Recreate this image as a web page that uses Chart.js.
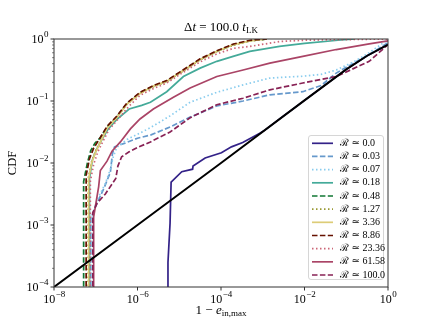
<!DOCTYPE html>
<html>
<head>
<meta charset="utf-8">
<script src="https://cdn.jsdelivr.net/npm/chart.js@4.4.0/dist/chart.umd.min.js"></script>
<style>
  html, body { margin: 0; padding: 0; background: #fff; }
</style>
</head>
<body>
<canvas id="chartCDF" width="432" height="324"></canvas>
<script>
// values as [log10(1 - e_in,max), log10(CDF)]
const rLabels = ['0.0', '0.03', '0.07', '0.18', '0.48', '1.27', '3.36', '8.86', '23.36', '61.58', '100.0'];

const cdf_R0 = [[-5.27,-4.5],[-5.27,-3.6],[-5.22,-2.97],[-5.195,-2.31],[-4.94,-2.14],[-4.68,-2.10],[-4.67,-2.05],
  [-4.38,-1.92],[-3.99,-1.835],[-3.75,-1.74],[-3.48,-1.67],[-3.07,-1.52],[-2.95,-1.47],[-2.5,-1.24],[-2.0,-0.99],
  [-1.5,-0.74],[-1.0,-0.49],[-0.5,-0.27],[0,-0.09]];
const cdf_R003 = [[-7.12,-4.5],[-7.12,-2.9],[-7.01,-2.71],[-6.8,-2.4],[-6.65,-2.15],[-6.6,-1.85],[-6.55,-1.74],
  [-6.3,-1.68],[-6.0,-1.6],[-5.69,-1.55],[-5.22,-1.42],[-4.74,-1.26],[-4.10,-1.08],[-3.47,-1.0],[-2.83,-0.90],
  [-2.04,-0.85],[-1.6,-0.75],[-1.24,-0.55],[-0.8,-0.38],[-0.45,-0.25],[0,-0.06]];
const cdf_R007 = [[-7.10,-4.5],[-7.10,-2.9],[-6.97,-2.60],[-6.77,-2.33],[-6.65,-2.1],[-6.58,-1.9],[-6.5,-1.75],
  [-6.25,-1.62],[-5.95,-1.52],[-5.69,-1.43],[-5.22,-1.24],[-4.74,-1.02],[-4.10,-0.86],[-3.47,-0.74],[-2.83,-0.63],
  [-2.04,-0.6],[-1.6,-0.57],[-1.24,-0.50],[-0.8,-0.36],[-0.45,-0.22],[0,-0.01]];
const cdf_R018 = [[-7.15,-4.5],[-7.15,-2.25],[-7.08,-1.95],[-6.98,-1.78],[-6.85,-1.62],[-6.7,-1.45],[-6.5,-1.3],
  [-6.2,-1.13],[-5.9,-1.07],[-5.69,-1.02],[-5.3,-0.85],[-4.9,-0.605],[-4.5,-0.47],[-4.1,-0.36],[-3.71,-0.28],
  [-3.31,-0.20],[-2.6,-0.12],[-2.0,-0.07],[-1.2,-0.02],[-0.8,0]];
const cdf_R048 = [[-7.29,-4.5],[-7.29,-2.3],[-7.2,-2.0],[-7.12,-1.8],[-7.02,-1.68],[-6.9,-1.6],[-6.73,-1.42],
  [-6.49,-1.25],[-6.25,-1.04],[-5.94,-0.87],[-5.62,-0.76],[-5.3,-0.68],[-4.98,-0.54],[-4.5,-0.33],
  [-4.1,-0.2],[-3.7,-0.09],[-3.3,-0.03],[-2.9,0]];
const cdf_R127 = [[-7.18,-4.5],[-7.18,-2.25],[-7.1,-1.98],[-7.0,-1.8],[-6.88,-1.64],[-6.73,-1.43],[-6.49,-1.26],
  [-6.25,-1.05],[-5.94,-0.88],[-5.62,-0.77],[-5.3,-0.69],[-4.98,-0.55],[-4.5,-0.34],[-4.1,-0.2],
  [-3.7,-0.1],[-3.3,-0.03],[-2.9,0]];
const cdf_R336 = [[-7.17,-4.5],[-7.17,-2.25],[-7.1,-2.0],[-7.0,-1.82],[-6.88,-1.65],[-6.73,-1.44],[-6.49,-1.26],
  [-6.25,-1.05],[-5.94,-0.88],[-5.62,-0.76],[-5.3,-0.68],[-4.98,-0.54],[-4.5,-0.33],[-4.1,-0.2],
  [-3.7,-0.09],[-3.3,-0.03],[-2.9,0]];
const cdf_R886 = [[-7.23,-4.5],[-7.23,-2.2],[-7.15,-1.93],[-7.05,-1.76],[-6.9,-1.6],[-6.73,-1.41],[-6.49,-1.24],
  [-6.25,-1.03],[-5.94,-0.86],[-5.62,-0.75],[-5.3,-0.67],[-4.98,-0.53],[-4.5,-0.32],[-4.1,-0.19],
  [-3.7,-0.08],[-3.3,-0.02],[-2.9,0]];
const cdf_R2336 = [[-7.13,-4.5],[-7.13,-2.3],[-7.05,-2.02],[-6.95,-1.82],[-6.82,-1.64],[-6.68,-1.46],[-6.45,-1.28],
  [-6.2,-1.08],[-5.94,-0.91],[-5.62,-0.8],[-5.3,-0.71],[-4.98,-0.57],[-4.5,-0.37],[-4.1,-0.24],[-3.7,-0.15],
  [-3.31,-0.12],[-2.59,-0.04],[-2.0,-0.02],[-1.0,-0.01],[0,0]];
const cdf_R6158 = [[-7.05,-4.5],[-7.05,-2.87],[-6.93,-2.38],[-6.89,-2.12],[-6.73,-1.97],[-6.61,-1.81],[-6.41,-1.66],
  [-6.17,-1.45],[-5.94,-1.29],[-5.62,-1.13],[-5.14,-0.94],[-4.74,-0.79],[-4.10,-0.605],[-3.47,-0.50],[-2.83,-0.39],
  [-2.04,-0.28],[-1.24,-0.17],[-0.45,-0.08],[0,-0.03]];
const cdf_R100 = [[-7.07,-4.5],[-7.07,-2.8],[-6.97,-2.65],[-6.77,-2.5],[-6.52,-2.25],[-6.47,-2.05],[-6.38,-1.9],
  [-6.2,-1.82],[-6.0,-1.75],[-5.69,-1.66],[-5.22,-1.5],[-4.74,-1.27],[-4.10,-1.06],[-3.47,-0.955],[-2.83,-0.82],
  [-2.04,-0.71],[-1.24,-0.605],[-0.45,-0.36],[0,-0.09]];
const refLine = [[-8,-4],[-6,-3.0],[-4,-2.0],[-2,-0.99],[-1,-0.49],[-0.5,-0.27],[0,-0.09]];

const allSeries = [cdf_R0, cdf_R003, cdf_R007, cdf_R018, cdf_R048, cdf_R127, cdf_R336, cdf_R886, cdf_R2336, cdf_R6158, cdf_R100];

const xTicks = [-8, -6, -4, -2, 0];
const yTicks = [-4, -3, -2, -1, 0];

// styles
const colors = ['#332288', '#6699CC', '#88CCEE', '#44AA99', '#117733', '#999933', '#DDCC77', '#661100', '#CC6677', '#AA4466', '#882255'];
const DASH = [5.5, 2.4], DOT = [1.5, 2.5], SOLID = [];
const dashes = [SOLID, DASH, DOT, SOLID, DASH, DOT, SOLID, DASH, DOT, SOLID, DASH];

function toPoints(arr) {
  return arr.map(p => ({ x: Math.pow(10, p[0]), y: Math.pow(10, p[1]) }));
}

const datasets = allSeries.map((s, i) => ({
  label: '\u211B \u2243 ' + rLabels[i],
  data: toPoints(s),
  borderColor: colors[i],
  borderDash: dashes[i],
  borderWidth: 1.7,
  pointRadius: 0,
  showLine: true,
  fill: false,
  clip: 0,
  order: 20 - i,
}));
datasets.push({
  label: 'ref',
  data: toPoints(refLine),
  borderColor: '#000000',
  borderWidth: 2,
  pointRadius: 0,
  showLine: true,
  clip: 0,
  order: 0,
});

const SERIF = '"Liberation Serif", "DejaVu Serif", serif';

// draws "10" with a raised exponent
function drawPow(ctx, x, y, exp, align) {
  ctx.font = '12px ' + SERIF;
  const wb = ctx.measureText('10').width;
  ctx.font = '9px ' + SERIF;
  const we = ctx.measureText(exp).width;
  const total = wb + we;
  let x0 = x;
  if (align === 'center') x0 = x - total / 2;
  if (align === 'right') x0 = x - total;
  ctx.textAlign = 'left';
  ctx.textBaseline = 'middle';
  ctx.font = '12px ' + SERIF;
  ctx.fillText('10', x0, y);
  ctx.font = '9px ' + SERIF;
  ctx.fillText(exp, x0 + wb + 0.5, y - 5);
}

// draws a sequence of [text, font, dy] pieces centred at x
function drawPieces(ctx, pieces, x, y) {
  let w = 0;
  pieces.forEach(p => { ctx.font = p[1]; w += ctx.measureText(p[0]).width; });
  let cx = x - w / 2;
  ctx.textAlign = 'left';
  ctx.textBaseline = 'middle';
  pieces.forEach(p => {
    ctx.font = p[1];
    ctx.fillText(p[0], cx, y + (p[2] || 0));
    cx += ctx.measureText(p[0]).width;
  });
}

const decorPlugin = {
  id: 'decor',
  afterDraw(chart) {
    const ctx = chart.ctx;
    const a = chart.chartArea;
    const xs = chart.scales.x, ys = chart.scales.y;
    ctx.save();
    ctx.fillStyle = '#000';
    ctx.strokeStyle = '#333';
    ctx.lineWidth = 1;
    ctx.strokeRect(a.left, a.top, a.right - a.left, a.bottom - a.top);

    // ticks
    ctx.beginPath();
    xTicks.forEach(t => {
      const px = xs.getPixelForValue(Math.pow(10, t));
      ctx.moveTo(px, a.bottom); ctx.lineTo(px, a.bottom + 3.5);
    });
    yTicks.forEach(t => {
      const py = ys.getPixelForValue(Math.pow(10, t));
      ctx.moveTo(a.left, py); ctx.lineTo(a.left - 3.5, py);
    });
    ctx.stroke();
    ctx.lineWidth = 0.6;
    ctx.beginPath();
    for (let d = -4; d < 0; d++) {
      for (let m = 2; m <= 9; m++) {
        const py = ys.getPixelForValue(m * Math.pow(10, d));
        ctx.moveTo(a.left, py); ctx.lineTo(a.left - 2, py);
      }
    }
    ctx.stroke();

    // tick labels
    xTicks.forEach(t => {
      const px = xs.getPixelForValue(Math.pow(10, t));
      drawPow(ctx, px, a.bottom + 13, t < 0 ? '\u2212' + (-t) : '0', 'center');
    });
    yTicks.forEach(t => {
      const py = ys.getPixelForValue(Math.pow(10, t));
      drawPow(ctx, a.left - 6, py + 1, t < 0 ? '\u2212' + (-t) : '0', 'right');
    });

    // title and axis labels
    const mid = (a.left + a.right) / 2;
    drawPieces(ctx, [
      ['\u0394', '13px ' + SERIF], ['t', 'italic 13px ' + SERIF], [' = 100.0 ', '13px ' + SERIF],
      ['t', 'italic 13px ' + SERIF], ['LK', '9px ' + SERIF, 3]
    ], mid, 28);
    drawPieces(ctx, [
      ['1 \u2212 ', '13px ' + SERIF], ['e', 'italic 13px ' + SERIF], ['in,max', '9px ' + SERIF, 3]
    ], mid, 311);
    ctx.save();
    ctx.translate(12.5, (a.top + a.bottom) / 2);
    ctx.rotate(-Math.PI / 2);
    drawPieces(ctx, [['CDF', '12.5px ' + SERIF]], 0, 0);
    ctx.restore();

    // legend
    const lx = 308.5, ly = 135.5, lw = 75, lh = 144;
    ctx.beginPath();
    ctx.roundRect(lx, ly, lw, lh, 2.5);
    ctx.fillStyle = 'rgba(255,255,255,0.8)';
    ctx.fill();
    ctx.strokeStyle = '#cccccc';
    ctx.lineWidth = 0.8;
    ctx.stroke();
    chart.data.datasets.slice(0, rLabels.length).forEach((ds, i) => {
      const yy = 143.3 + i * 13.17;
      ctx.beginPath();
      ctx.setLineDash(ds.borderDash);
      ctx.strokeStyle = ds.borderColor;
      ctx.lineWidth = 1.7;
      ctx.moveTo(312, yy); ctx.lineTo(333, yy);
      ctx.stroke();
      ctx.setLineDash([]);
      ctx.fillStyle = '#000';
      ctx.font = '10px ' + SERIF;
      ctx.textAlign = 'left';
      ctx.textBaseline = 'middle';
      ctx.fillText(ds.label, 340, yy);
    });
    ctx.restore();
  }
};

const chartCDF = new Chart(document.getElementById('chartCDF').getContext('2d'), {
  type: 'scatter',
  data: { datasets: datasets },
  options: {
    responsive: false,
    devicePixelRatio: 1,
    animation: false,
    layout: { padding: { left: 0, right: 44, top: 39, bottom: 0 } },
    plugins: { legend: { display: false }, tooltip: { enabled: false }, title: { display: false } },
    scales: {
      x: {
        type: 'logarithmic', min: 1e-8, max: 1,
        grid: { display: false }, border: { display: false }, ticks: { display: false },
        afterFit(scale) { scale.height = 37; }
      },
      y: {
        type: 'logarithmic', min: 1e-4, max: 1,
        grid: { display: false }, border: { display: false }, ticks: { display: false },
        afterFit(scale) { scale.width = 54; }
      }
    }
  },
  plugins: [decorPlugin]
});
</script>
</body>
</html>
